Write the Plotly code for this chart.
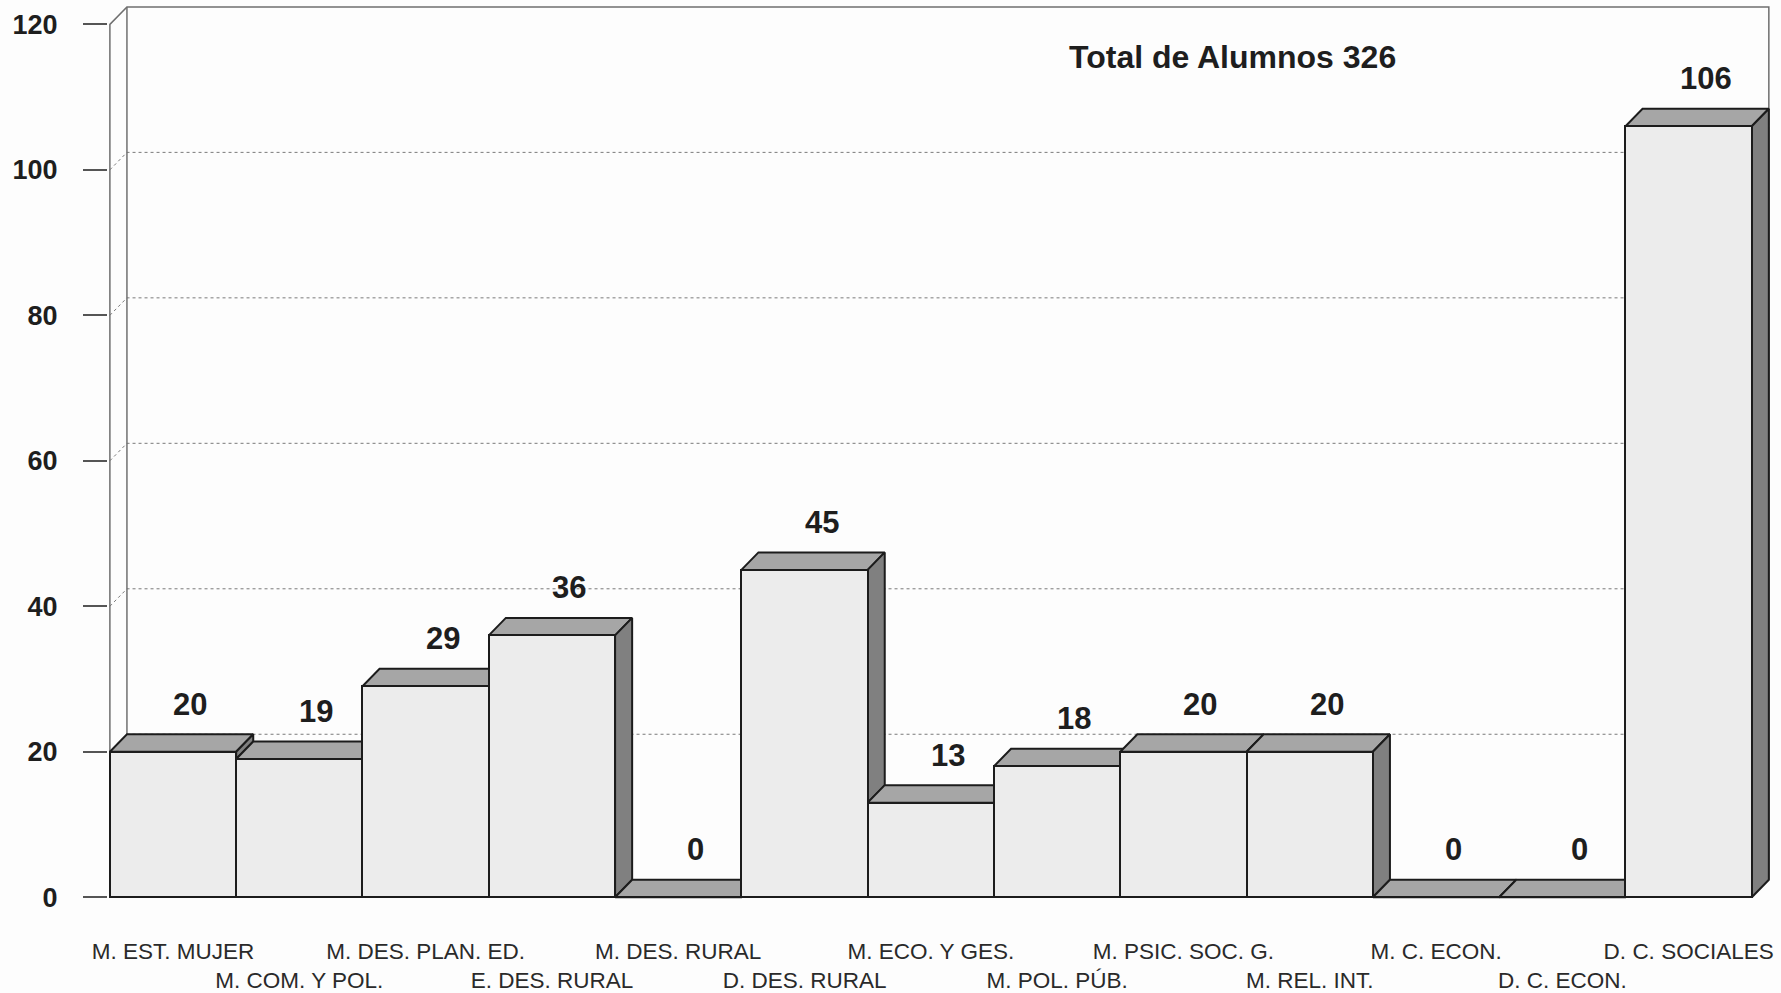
import plotly.graph_objects as go

# ---- data ----
categories = ["M. EST. MUJER", "M. COM. Y POL.", "M. DES. PLAN. ED.", "E. DES. RURAL",
              "M. DES. RURAL", "D. DES. RURAL", "M. ECO. Y GES.", "M. POL. PÚB.",
              "M. PSIC. SOC. G.", "M. REL. INT.", "M. C. ECON.", "D. C. ECON.",
              "D. C. SOCIALES"]
values = [20, 19, 29, 36, 0, 45, 13, 18, 20, 20, 0, 0, 106]
y_ticks = [0, 20, 40, 60, 80, 100, 120]
title_text = "Total de Alumnos 326"

# ---- styling constants ----
DX = 0.135   # depth offset along x (category units)
DY = 2.4     # depth offset along y (value units)
FRONT = "#ececec"
TOP = "#a6a6a6"
SIDE = "#808080"
EDGE = "#1c1c1c"
WALL = "#6f6f6f"
FONT = "Arial, Liberation Sans, sans-serif"

n = len(values)
idx = list(range(n))
ymax = y_ticks[-1]
x_left = -0.5
x_right = n - 0.5

fig = go.Figure()

# back wall gridlines (dashed), incl. left-wall diagonal segments
gx, gy = [], []
for v in y_ticks[1:-1]:
    gx += [x_left, x_left + DX, x_right + DX, None]
    gy += [v, v + DY, v + DY, None]
fig.add_trace(go.Scatter(x=gx, y=gy, mode="lines",
                         line=dict(color="#7a7a7a", width=1, dash="3px,3px"),
                         hoverinfo="skip", showlegend=False))

# walls / box frame
wx = [x_left, x_left, x_left + DX, x_right + DX, x_right + DX, None,
      x_left + DX, x_left + DX, None, x_left + DX, x_right + DX]
wy = [0, ymax, ymax + DY, ymax + DY, DY, None,
      DY, ymax + DY, None, DY, DY]
fig.add_trace(go.Scatter(x=wx, y=wy, mode="lines",
                         line=dict(color=WALL, width=1.5),
                         hoverinfo="skip", showlegend=False))

# 3D top and side faces, left to right
for i, v in enumerate(values):
    xl, xr = i - 0.5, i + 0.5
    # top face
    fig.add_trace(go.Scatter(
        x=[xl, xl + DX, xr + DX, xr, xl],
        y=[v, v + DY, v + DY, v, v],
        mode="lines", fill="toself", fillcolor=TOP,
        line=dict(color=EDGE, width=2), hoverinfo="skip", showlegend=False))
    # visible part of the right side face
    nxt = values[i + 1] if i + 1 < n else 0
    if v > nxt:
        fig.add_trace(go.Scatter(
            x=[xr, xr + DX, xr + DX, xr, xr],
            y=[nxt, nxt + DY, v + DY, v, nxt],
            mode="lines", fill="toself", fillcolor=SIDE,
            line=dict(color=EDGE, width=2), hoverinfo="skip", showlegend=False))

# front faces
fig.add_trace(go.Bar(x=idx, y=values, width=1, marker=dict(color=FRONT, line=dict(color=EDGE, width=2)),
                     hoverinfo="skip", showlegend=False, zorder=5))

# value labels
for i, v in enumerate(values):
    fig.add_annotation(x=i + DX, y=v + DY, text=str(v), showarrow=False,
                       yanchor="middle", yshift=30,
                       font=dict(family=FONT, size=31, color="#1e1e1e", weight="bold"))

# title inside chart
fig.add_annotation(x=8.39, y=115.5, text=title_text, showarrow=False,
                   xanchor="center", yanchor="middle",
                   font=dict(family=FONT, size=32, color="#1e1e1e", weight="bold"))

# staggered category labels
ticktext = [c if i % 2 == 0 else "<br>" + c for i, c in enumerate(categories)]

PXX = 126.3
PXY = 7.27
xr0, xr1 = -0.515, 12.66
yr0, yr1 = -0.8, 122.8
l = 110 - (x_left - xr0) * PXX
plot_w = (xr1 - xr0) * PXX
r = 1781 - l - plot_w
b = 993 - (897 + (0 - yr0) * PXY)
plot_h = (yr1 - yr0) * PXY
t = 993 - b - plot_h

fig.update_layout(
    width=1781, height=993,
    margin=dict(l=l, r=r, t=t, b=b, pad=0, autoexpand=False),
    paper_bgcolor="#fdfdfd", plot_bgcolor="rgba(0,0,0,0)",
    bargap=0, showlegend=False,
    xaxis=dict(range=[xr0, xr1], tickmode="array", tickvals=idx, ticktext=ticktext,
               automargin=False,
               tickangle=0, showgrid=False, zeroline=False, showline=False, ticks="",
               ticklabelstandoff=32,
               tickfont=dict(family=FONT, size=22.5, color="#2a2a2a")),
    yaxis=dict(range=[yr0, yr1], tickmode="array", tickvals=y_ticks,
               automargin=False,
               showgrid=False, zeroline=False, showline=False,
               ticks="outside", ticklen=24, tickwidth=1.5, tickcolor="#555555",
               ticklabelstandoff=20,
               tickfont=dict(family=FONT, size=27, color="#1e1e1e", weight="bold")),
)

fig.write_html("out.html", config={"displayModeBar": False},
               post_script="document.body.style.margin='0';document.body.style.overflow='hidden';")
